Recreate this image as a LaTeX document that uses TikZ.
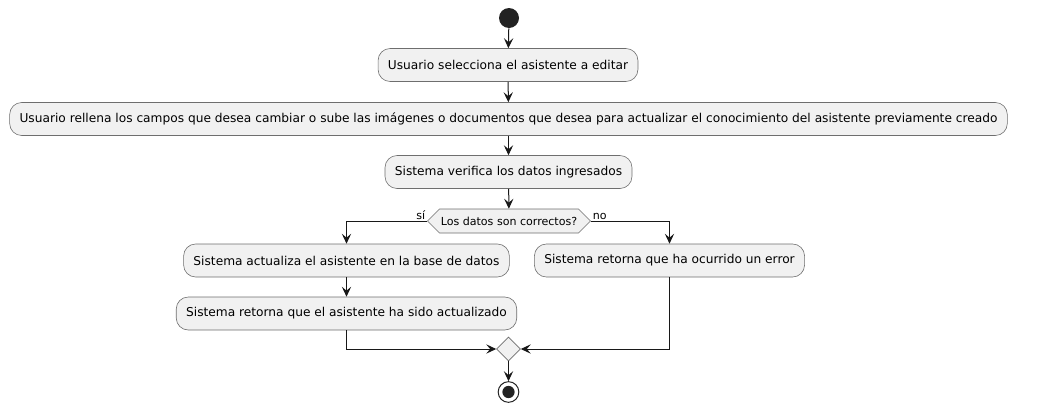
\documentclass[tikz,border=0pt]{standalone}
\usepackage{fontspec}
\setmainfont{DejaVu Sans}
\usepackage{xcolor}
\usetikzlibrary{arrows.meta, positioning, shapes.geometric, shapes.symbols}
\definecolor{umlLine}{HTML}{181818}
\definecolor{umlEdge}{HTML}{6E6E6E}
\definecolor{umlFill}{HTML}{F1F1F1}
\definecolor{umlDot}{HTML}{222222}

\begin{document}
\begin{tikzpicture}[
  x=0.75pt, y=-0.75pt,
  act/.style={draw=umlEdge, rounded corners=9pt, align=center,
              minimum height=24.75pt, inner xsep=7.4pt, inner ysep=0pt,
              font=\fontsize{9.15}{11}\selectfont, line width=0.45pt,
              fill=umlFill, text=black},
  cond/.style={signal, signal to=east and west, draw=umlEdge, fill=umlFill,
              minimum height=18pt, inner xsep=1pt, inner ysep=0pt,
              font=\fontsize{8.3}{10}\selectfont, line width=0.45pt},
  merge/.style={diamond, draw=umlEdge, fill=umlFill, minimum size=18pt,
              inner sep=0pt, line width=0.45pt},
  startpt/.style={circle, fill=umlDot, minimum size=15pt, inner sep=0pt},
  endpt/.style={circle, draw=umlDot, fill=white, minimum size=15.5pt,
              inner sep=0pt, line width=0.75pt,
              path picture={\fill[umlDot] (path picture bounding box.center) circle (4.6pt);}},
  flow/.style={-{Stealth[length=7.5pt, width=7pt, inset=3pt]}, draw=umlLine,
              line width=0.75pt},
  branch/.style={font=\fontsize{8.3}{10}\selectfont, inner sep=0pt},
]
\useasboundingbox (0,0) rectangle (1061,411);

% --- main sequence ---
\node[startpt] (start) at (509,18) {};
\node[act] (sel)   at (508,65)    {Usuario selecciona el asistente a editar};
\node[act] (fill)  at (508.5,119) {Usuario rellena los campos que desea cambiar o sube las imágenes o documentos que desea para actualizar el conocimiento del asistente previamente creado};
\node[act] (check) at (508.5,172) {Sistema verifica los datos ingresados};
\node[cond] (ok)   at (509,221)   {Los datos son correctos?};

% --- branches ---
\node[act] (upd)  at (346.5,260.5) {Sistema actualiza el asistente en la base de datos};
\node[act] (done) at (346.5,313.5) {Sistema retorna que el asistente ha sido actualizado};
\node[act] (err)  at (669.5,260.5) {Sistema retorna que ha ocurrido un error};

\node[merge] (join) at (508.5,349) {};
\node[endpt] (stop) at (508.5,392) {};

% --- connectors ---
\draw[flow] (start) -- (sel);
\draw[flow] (sel) -- (fill);
\draw[flow] (fill) -- (check);
\draw[flow] (check) -- (ok);
\draw[flow] (ok.west) -| (upd.north)
  node[branch, pos=0, anchor=south east, xshift=-1pt, yshift=1pt] {sí};
\draw[flow] (ok.east) -| (err.north)
  node[branch, pos=0, anchor=south west, xshift=1pt, yshift=1pt] {no};
\draw[flow] (upd) -- (done);
\draw[flow] (done.south) |- (join.west);
\draw[flow] (err.south) |- (join.east);
\draw[flow] (join) -- (stop);
\end{tikzpicture}
\end{document}
